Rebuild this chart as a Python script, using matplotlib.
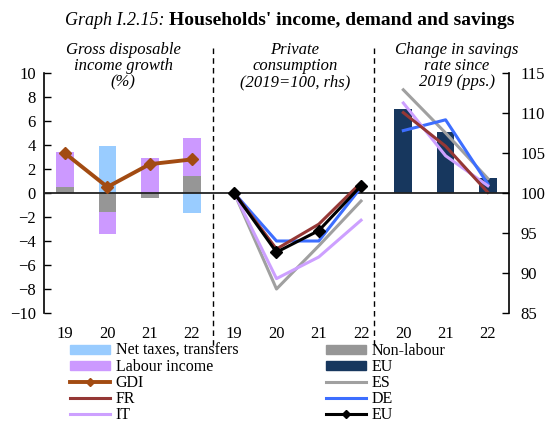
import matplotlib
matplotlib.use("Agg")
import matplotlib.pyplot as plt
import matplotlib.patches as mpatches
from matplotlib.lines import Line2D
import numpy as np

plt.rcParams['font.family'] = ['Liberation Serif', 'DejaVu Serif']

# x labels for the three panels
labels = ['19', '20', '21', '22', '19', '20', '21', '22', '20', '21', '22']

# panel 1: gross disposable income growth (%)
net_taxes = [0.0, 3.9, 0.0, -1.7]
labour = [2.9, -1.8, 2.9, 3.2]
non_labour = [0.5, -1.6, -0.4, 1.4]
gdi = [3.3, 0.5, 2.4, 2.8]

# panel 2: private consumption (2019=100, rhs)
cons_es = [100, 88.0, 93.4, 99.0]
cons_fr = [100, 93.0, 96.1, 101.3]
cons_de = [100, 94.0, 94.0, 100.7]
cons_it = [100, 89.3, 92.0, 96.6]
cons_eu = [100, 92.6, 95.3, 100.9]

# panel 3: change in savings rate since 2019 (pps.)
sav_eu = [7.0, 5.1, 1.25]
sav_es = [8.6, 5.0, 1.2]
sav_fr = [6.7, 3.9, 0.05]
sav_de = [5.2, 6.1, 0.75]
sav_it = [7.5, 3.1, 0.6]

c_tax = '#99CCFF'
c_lab = '#CC99FF'
c_nonlab = '#969696'
c_eubar = '#17375E'
c_gdi = '#A24B12'
c_es = '#A0A0A0'
c_fr = '#953735'
c_de = '#3D6EFF'
c_it = '#CDA0FF'

fig = plt.figure(figsize=(5.51, 4.23), dpi=100)
ax = fig.add_axes([44 / 551, 1 - 313 / 423, 465 / 551, 240 / 423])
ax2 = ax.twinx()

x = np.arange(len(labels))
x1 = x[0:4]
x2 = x[4:8]
x3 = x[8:11]
w = 0.42

# stacked bars, positives up and negatives down
pos = np.zeros(4)
neg = np.zeros(4)
for vals, col in [(non_labour, c_nonlab), (labour, c_lab), (net_taxes, c_tax)]:
    v = np.array(vals)
    bottom = np.where(v >= 0, pos, neg)
    ax.bar(x1, v, w, bottom=bottom, color=col, zorder=2)
    pos = pos + np.where(v >= 0, v, 0)
    neg = neg + np.where(v < 0, v, 0)
ax.plot(x1, gdi, color=c_gdi, lw=2.8, marker='D', ms=6.5, zorder=4)

ax.bar(x3, sav_eu, w, color=c_eubar, zorder=2)
ax.plot(x3, sav_es, color=c_es, lw=2.2, zorder=3)
ax.plot(x3, sav_de, color=c_de, lw=2.2, zorder=3)
ax.plot(x3, sav_it, color=c_it, lw=2.2, zorder=3)
ax.plot(x3, sav_fr, color=c_fr, lw=2.2, zorder=3)

ax2.plot(x2, cons_es, color=c_es, lw=2.2)
ax2.plot(x2, cons_it, color=c_it, lw=2.2)
ax2.plot(x2, cons_de, color=c_de, lw=2.2)
ax2.plot(x2, cons_fr, color=c_fr, lw=2.2)
ax2.plot(x2, cons_eu, color='black', lw=2.2, marker='D', ms=6.5)

ax.axhline(0, color='#222222', lw=1.3, zorder=3)

ax.set_xlim(-0.5, 10.5)
ax.set_ylim(-10, 10)
ax2.set_ylim(85, 115)
ax.set_yticks(range(-10, 11, 2))
ax2.set_yticks(range(85, 116, 5))
ax.set_xticks(x)
ax.set_xticklabels(labels)

for a in (ax, ax2):
    a.spines['top'].set_visible(False)
    a.spines['bottom'].set_visible(False)
    a.tick_params(labelsize=12, direction='in', length=5, width=1)
ax.spines['right'].set_visible(False)
ax2.spines['left'].set_visible(False)
ax.spines['left'].set_linewidth(1.2)
ax2.spines['right'].set_linewidth(1.2)
ax.tick_params(axis='x', length=0, pad=9)
ax.tick_params(axis='y', pad=6)
ax2.tick_params(axis='y', pad=8)

# dashed separators reaching beyond the plot area
for xs in (3.5, 7.31):
    ax.plot([xs, xs], [12.1, -12.8], color='black', lw=1, ls=(0, (4, 3)),
            clip_on=False, zorder=5)

hdr = dict(ha='center', va='top', fontsize=12, style='italic',
           linespacing=1.0, transform=fig.transFigure)
fig.text(123 / 551, 1 - 42 / 423, 'Gross disposable\nincome growth\n(%)', **hdr)
fig.text(295 / 551, 1 - 42 / 423, 'Private\nconsumption\n(2019=100, rhs)', **hdr)
fig.text(457 / 551, 1 - 42 / 423, 'Change in savings\nrate since\n2019 (pps.)', **hdr)

t1 = fig.text(65 / 551, 1 - 25 / 423, 'Graph I.2.15: ', fontsize=13, style='italic')
ax.annotate("Households' income, demand and savings", xy=(1, 0), xycoords=t1,
            va='bottom', ha='left', fontsize=14, fontweight='bold')

handles = [
    mpatches.Patch(color=c_tax, label='Net taxes, transfers'),
    mpatches.Patch(color=c_lab, label='Labour income'),
    Line2D([], [], color=c_gdi, lw=2.8, marker='D', ms=4, label='GDI'),
    Line2D([], [], color=c_fr, lw=2.2, label='FR'),
    Line2D([], [], color=c_it, lw=2.2, label='IT'),
    mpatches.Patch(color=c_nonlab, label='Non-labour'),
    mpatches.Patch(color=c_eubar, label='EU'),
    Line2D([], [], color=c_es, lw=2.2, label='ES'),
    Line2D([], [], color=c_de, lw=2.2, label='DE'),
    Line2D([], [], color='black', lw=2.2, marker='D', ms=4, label='EU'),
]
fig.legend(handles=handles, ncol=2, loc='upper left',
           bbox_to_anchor=(70 / 551, 1 - 343 / 423), frameon=False,
           fontsize=11.5, labelspacing=0.0, handlelength=2.5, handleheight=0.45,
           handletextpad=0.35, columnspacing=5.5, borderaxespad=0, borderpad=0)

fig.savefig('out.png', dpi=100)
